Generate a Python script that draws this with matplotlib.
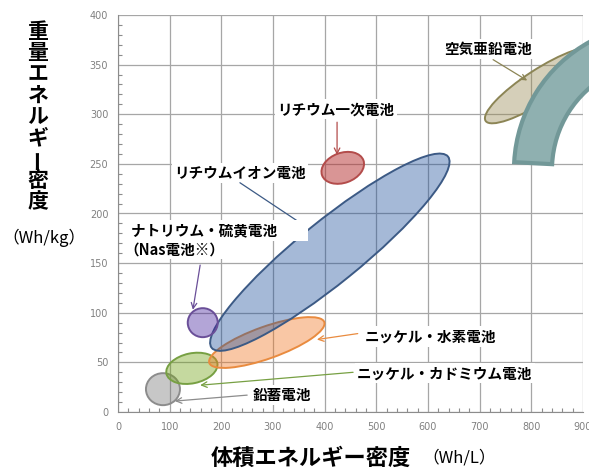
import matplotlib
matplotlib.use("Agg")
import matplotlib.pyplot as plt
from matplotlib.patches import Ellipse, Wedge
from matplotlib import transforms
from matplotlib.ticker import MultipleLocator

plt.rcParams['font.family'] = ['Noto Sans CJK JP', 'DejaVu Sans']

# battery types and where their region sits (centre of ellipse)
names = ['鉛蓄電池', 'ニッケル・カドミウム電池', 'ニッケル・水素電池',
         'リチウムイオン電池', 'ナトリウム・硫黄電池', 'リチウム一次電池', '空気亜鉛電池']
vol_density = [87, 143, 288, 410, 164, 435, 817]     # Wh/L
wt_density = [23, 44, 70, 161, 90, 246, 329]         # Wh/kg

x_ticks = [0, 100, 200, 300, 400, 500, 600, 700, 800, 900]
y_ticks = [0, 50, 100, 150, 200, 250, 300, 350, 400]

# ellipse shapes in pixels (w, h, angle) + colours
shapes = [(34, 32, 0), (52, 30, 12), (122, 32, 19.6), (304, 62, 39),
          (30, 29, 0), (44, 30, 20), (130, 32, 33)]
faces = ['#757575', '#6ea011', '#f2751e', '#1e509b', '#431e9b', '#b52d2d', '#988950']
alphas = [0.4, 0.4, 0.4, 0.4, 0.4, 0.5, 0.4]
edges = ['#8c8c8c', '#77a043', '#e98b3f', '#3c5a85', '#6a4f98', '#b34c4b', '#8c8555']
zs = [2, 2, 3, 4, 5, 3, 2]

# label positions (data coords), arrow start -> end
label_pos = [(261, 17), (463, 39), (478, 76), (236, 241), (25, 183), (422, 305), (716, 366)]
label_ha = ['left', 'left', 'left', 'center', 'left', 'center', 'center']
arrow_from = [(250, 17), (455, 40), (464, 79), (236, 231), (159, 148), (424, 292), (726, 355)]
arrow_to = [(110, 11), (159, 27), (385, 73), (366, 186), (145, 103), (424, 259), (792, 334)]

fig = plt.figure(figsize=(5.89, 4.73), dpi=100)
ax = fig.add_axes([118/589, 61/473, 465/589, 397/473])
ax.set_xlim(0, 900)
ax.set_ylim(0, 400)
ax.set_xticks(x_ticks)
ax.set_yticks(y_ticks)
ax.xaxis.set_minor_locator(MultipleLocator(20))
ax.yaxis.set_minor_locator(MultipleLocator(10))
ax.tick_params(which='both', direction='in', colors='#8c8c8c', labelcolor='#808080',
               labelsize=7, pad=7)
ax.tick_params(which='major', length=0)
ax.tick_params(which='minor', length=3, width=0.8)
for lbl in ax.get_xticklabels() + ax.get_yticklabels():
    lbl.set_family('DejaVu Sans')
ax.grid(True, color='#a6a6a6', lw=0.9, zorder=0)
ax.set_axisbelow(True)
for s in ['top', 'right']:
    ax.spines[s].set_visible(False)
for s in ['left', 'bottom']:
    ax.spines[s].set_color('#8c8c8c')

for i in range(len(names)):
    w, h, ang = shapes[i]
    tr = fig.dpi_scale_trans + transforms.ScaledTranslation(vol_density[i], wt_density[i], ax.transData)
    e = Ellipse((0, 0), w/100, h/100, angle=ang, transform=tr,
                facecolor=faces[i], alpha=alphas[i], edgecolor='none', zorder=zs[i])
    ax.add_patch(e)
    e2 = Ellipse((0, 0), w/100, h/100, angle=ang, transform=tr,
                 facecolor='none', edgecolor=edges[i], lw=1.4, zorder=zs[i])
    ax.add_patch(e2)

# big teal arc in the upper right corner
tr = fig.dpi_scale_trans + transforms.ScaledTranslation(1049, 244, ax.transData)
arc = Wedge((0, 0), 1.46, 60, 177, width=0.38, transform=tr, facecolor='#8fb0b0',
            edgecolor='#729898', lw=3, zorder=6, clip_on=False)
ax.add_patch(arc)

box = dict(boxstyle='square,pad=0.15', fc='white', ec='none')
for i in range(len(names)):
    txt = names[i]
    if i == 4:
        txt = names[i] + '\u3000\u3000'
    ax.text(label_pos[i][0], label_pos[i][1], txt, ha=label_ha[i], va='center',
            fontsize=10.5, fontweight='bold', bbox=box, zorder=7)
    ax.annotate('', xy=arrow_to[i], xytext=arrow_from[i],
                arrowprops=dict(arrowstyle='->', color=edges[i], lw=0.9,
                                shrinkA=0, shrinkB=0), zorder=7)
ax.text(13, 164, '（Nas電池※）', ha='left', va='center', fontsize=10.5,
        fontweight='bold', bbox=box, zorder=7)

# vertical y label
ylab = '重量エネルギー密度'
for k, ch in enumerate(ylab):
    fig.text(38/589, 1 - (31 + k*21.4)/473, ch, ha='center', va='center',
             fontsize=15, fontweight='bold', rotation=90 if ch == 'ー' else 0)
fig.text(44/589, 1 - 238/473, '（Wh/kg）', ha='center', va='center', fontsize=12)

fig.text(311/589, 1 - 458/473, '体積エネルギー密度', ha='center', va='center',
         fontsize=16, fontweight='bold')
fig.text(422/589, 1 - 458/473, '（Wh/L）', ha='left', va='center', fontsize=12)

fig.savefig('out.png', dpi=100)
